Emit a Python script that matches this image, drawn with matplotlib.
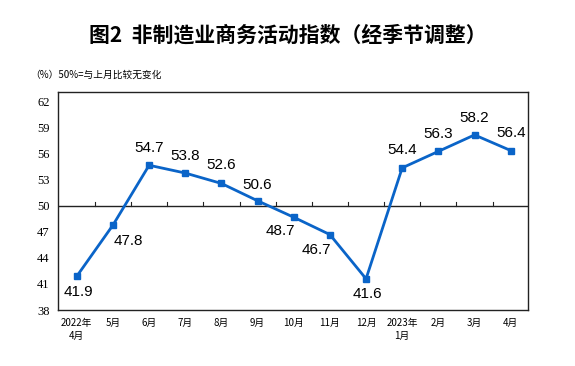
import matplotlib.pyplot as plt
import numpy as np

plt.rcParams['font.family'] = ['Noto Sans CJK SC', 'DejaVu Sans']

# monthly non-manufacturing business activity index
months = ['2022年\n4月', '5月', '6月', '7月', '8月', '9月', '10月', '11月', '12月',
          '2023年\n1月', '2月', '3月', '4月']
values = [41.9, 47.8, 54.7, 53.8, 52.6, 50.6, 48.7, 46.7, 41.6, 54.4, 56.3, 58.2, 56.4]
yticks = [38, 41, 44, 47, 50, 53, 56, 59, 62]

# label offsets (pixels) relative to each point
label_off = [(2, -16), (15, -16), (0, 17), (0, 17), (0, 18), (0, 16), (-13, -14),
             (-14, -15), (1, -15), (0, 18), (0, 17), (0, 17), (0, 18)]

fig = plt.figure(figsize=(5.75, 3.66), dpi=100)
ax = fig.add_axes([0.1009, 0.153, 0.8174, 0.5956])

x = np.arange(len(values))
ax.plot(x, values, color='#0A64C8', lw=2, marker='s', ms=4.5, zorder=3)

# 50 line with small ticks between months
ax.axhline(50, color='#222222', lw=1)
for i in range(len(values) - 1):
    ax.plot([i + 0.5, i + 0.5], [50, 50.45], color='#222222', lw=0.8)

for xi, v, (dx, dy) in zip(x, values, label_off):
    ax.annotate(f'{v}', (xi, v), xytext=(dx * 0.72, dy * 0.72), textcoords='offset points',
                ha='center', va='center', fontsize=11, family='Liberation Sans')

ax.set_xlim(-0.52, 12.48)
ax.set_ylim(38, 63.15)
ax.set_yticks(yticks)
ax.set_yticklabels([str(t) for t in yticks], family='Liberation Serif', fontsize=9)
ax.set_xticks(x)
ax.set_xticklabels(months, fontsize=7, linespacing=1.3)
ax.tick_params(axis='both', length=0, pad=6)
for s in ax.spines.values():
    s.set_linewidth(1)
    s.set_color('#222222')

fig.text(0.5, 0.904, '图2  非制造业商务活动指数（经季节调整）', ha='center', va='center',
         fontsize=15, fontweight='bold')
fig.text(0.052, 0.795, '（%）50%=与上月比较无变化', ha='left', va='center', fontsize=7)

fig.savefig('out.png', dpi=100)
